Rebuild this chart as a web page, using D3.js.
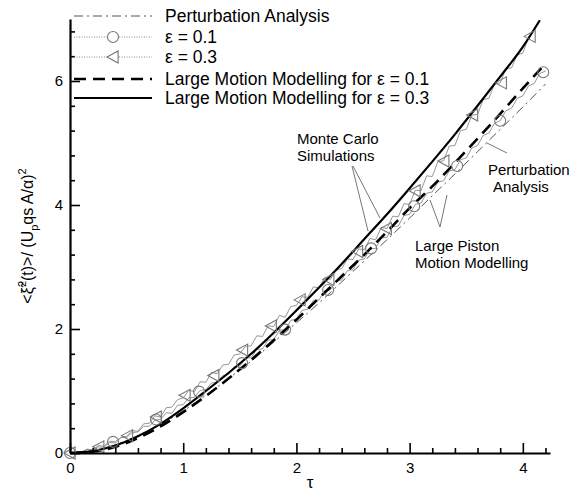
<!DOCTYPE html>
<html>
<head>
<meta charset="utf-8">
<script src="https://cdn.jsdelivr.net/npm/d3@7"></script>
<style>
  body { margin: 0; background: #fff; }
  text { font-family: "Liberation Sans", Arial, sans-serif; fill: #000; }
</style>
</head>
<body>
<div id="chart"></div>
<script>
// Monte Carlo runs (sampled every 0.05 in tau)
const tauMC = [0, 0.05, 0.1, 0.15, 0.2, 0.25, 0.3, 0.35, 0.4, 0.45, 0.5, 0.55, 0.6, 0.65, 0.7, 0.75, 0.8, 0.85, 0.9, 0.95,
  1.0, 1.05, 1.1, 1.15, 1.2, 1.25, 1.3, 1.35, 1.4, 1.45, 1.5, 1.55, 1.6, 1.65, 1.7, 1.75, 1.8, 1.85, 1.9, 1.95,
  2.0, 2.05, 2.1, 2.15, 2.2, 2.25, 2.3, 2.35, 2.4, 2.45, 2.5, 2.55, 2.6, 2.65, 2.7, 2.75, 2.8, 2.85, 2.9, 2.95,
  3.0, 3.05, 3.1, 3.15, 3.2, 3.25, 3.3, 3.35, 3.4, 3.45, 3.5, 3.55, 3.6, 3.65, 3.7, 3.75, 3.8, 3.85, 3.9, 3.95,
  4.0, 4.05, 4.1, 4.15, 4.2];
const mc01 = [0.00, 0.02, 0.01, 0.06, 0.05, 0.12, 0.11, 0.19, 0.18, 0.25,
  0.25, 0.33, 0.34, 0.43, 0.43, 0.53, 0.54, 0.65, 0.64, 0.77,
  0.78, 0.89, 0.90, 1.01, 1.02, 1.13, 1.14, 1.25, 1.27, 1.39,
  1.40, 1.53, 1.54, 1.67, 1.68, 1.82, 1.83, 1.98, 1.99, 2.14,
  2.16, 2.30, 2.32, 2.46, 2.47, 2.62, 2.63, 2.78, 2.79, 2.94,
  2.96, 3.11, 3.13, 3.29, 3.30, 3.47, 3.48, 3.65, 3.66, 3.83,
  3.85, 4.01, 4.03, 4.19, 4.21, 4.37, 4.39, 4.55, 4.57, 4.73,
  4.76, 4.92, 4.96, 5.12, 5.16, 5.32, 5.36, 5.52, 5.56, 5.72,
  5.76, 5.92, 5.96, 6.12, 6.16];
const mc03 = [0.00, 0.02, 0.01, 0.06, 0.05, 0.10, 0.09, 0.17, 0.16, 0.25,
  0.27, 0.36, 0.35, 0.47, 0.48, 0.60, 0.58, 0.73, 0.74, 0.86,
  0.89, 1.01, 0.99, 1.15, 1.14, 1.30, 1.28, 1.42, 1.43, 1.58,
  1.60, 1.72, 1.73, 1.89, 1.88, 2.05, 2.04, 2.22, 2.19, 2.36,
  2.38, 2.52, 2.51, 2.68, 2.66, 2.83, 2.80, 2.96, 2.97, 3.13,
  3.12, 3.29, 3.28, 3.46, 3.44, 3.64, 3.62, 3.82, 3.81, 4.02,
  4.01, 4.24, 4.23, 4.47, 4.46, 4.70, 4.71, 4.95, 4.96, 5.20,
  5.22, 5.45, 5.46, 5.70, 5.72, 5.95, 5.97, 6.20, 6.21, 6.42,
  6.45, 6.70, 6.82, 6.97];

// symbols on the Monte Carlo runs
const tauCircle = [0, 0.38, 0.76, 1.14, 1.52, 1.9, 2.28, 2.66, 3.04, 3.42, 3.8, 4.18];
const valCircle = [0, 0.18, 0.54, 0.99, 1.45, 1.99, 2.63, 3.30, 3.98, 4.63, 5.36, 6.14];
const tauTri = [0, 0.254, 0.508, 0.762, 1.016, 1.27, 1.524, 1.778, 2.032, 2.286, 2.54, 2.794, 3.048, 3.302, 3.556, 3.81, 4.064];
const valTri = [0, 0.10, 0.28, 0.58, 0.93, 1.25, 1.66, 2.05, 2.47, 2.80, 3.25, 3.62, 4.23, 4.71, 5.45, 5.97, 6.72];

// model curves
const tauModel = [0, 0.2, 0.4, 0.6, 0.8, 1.0, 1.2, 1.4, 1.6, 1.8, 2.0, 2.2, 2.4, 2.6, 2.8, 3.0, 3.2, 3.4, 3.6, 3.8, 4.0, 4.2];
const perturbation = [0, 0.03, 0.13, 0.28, 0.46, 0.68, 0.93, 1.20, 1.48, 1.79, 2.10, 2.42, 2.76, 3.10, 3.44, 3.79, 4.15, 4.50, 4.86, 5.22, 5.58, 5.95];
const lmm01 = [0, 0.02, 0.10, 0.24, 0.43, 0.66, 0.92, 1.20, 1.50, 1.82, 2.15, 2.50, 2.85, 3.20, 3.57, 3.95, 4.30, 4.68, 5.07, 5.47, 5.88, 6.28];
const tauLmm03 = [0, 0.2, 0.4, 0.6, 0.8, 1.0, 1.2, 1.4, 1.6, 1.8, 2.0, 2.2, 2.4, 2.6, 2.8, 3.0, 3.2, 3.4, 3.6, 3.8, 4.0, 4.15];
const lmm03 = [0, 0.03, 0.12, 0.27, 0.47, 0.72, 1.00, 1.29, 1.60, 1.94, 2.30, 2.67, 3.05, 3.45, 3.85, 4.27, 4.70, 5.14, 5.60, 6.07, 6.55, 6.98];

const xTicks = [0, 1, 2, 3, 4];
const xMinor = [0.2, 0.4, 0.6, 0.8, 1.2, 1.4, 1.6, 1.8, 2.2, 2.4, 2.6, 2.8, 3.2, 3.4, 3.6, 3.8, 4.2];
const yTicks = [0, 2, 4, 6];
const yMinor = [0.4, 0.8, 1.2, 1.6, 2.4, 2.8, 3.2, 3.6, 4.4, 4.8, 5.2, 5.6, 6.4, 6.8];
const legendLabels = ["Perturbation Analysis", "\u03b5 = 0.1", "\u03b5 = 0.3",
  "Large Motion Modelling for \u03b5 = 0.1", "Large Motion Modelling for \u03b5 = 0.3"];

const width = 575;
const height = 493;

const svg = d3.select("#chart").append("svg").attr("width", width).attr("height", height);

const x = d3.scaleLinear().domain([0, 4.24]).range([70, 550]);
const y = d3.scaleLinear().domain([0, 7]).range([453, 19]);

const zip = (xs, ys) => ys.map((v, i) => [xs[i], v]);
const line = d3.line().x((d) => x(d[0])).y((d) => y(d[1]));
const smooth = d3.line().x((d) => x(d[0])).y((d) => y(d[1])).curve(d3.curveMonotoneX);

// Monte Carlo noisy lines
svg.append("path").attr("d", line(zip(tauMC, mc01)))
  .attr("fill", "none").attr("stroke", "#8a8a8a").attr("stroke-width", 0.9);
svg.append("path").attr("d", line(zip(tauMC, mc03)))
  .attr("fill", "none").attr("stroke", "#8a8a8a").attr("stroke-width", 0.9);

// model curves
svg.append("path").attr("d", smooth(zip(tauModel, perturbation)))
  .attr("fill", "none").attr("stroke", "#555").attr("stroke-width", 1)
  .attr("stroke-dasharray", "9,4,2,4");
svg.append("path").attr("d", smooth(zip(tauModel, lmm01)))
  .attr("fill", "none").attr("stroke", "#000").attr("stroke-width", 2.6)
  .attr("stroke-dasharray", "12,7");
svg.append("path").attr("d", smooth(zip(tauLmm03, lmm03)))
  .attr("fill", "none").attr("stroke", "#000").attr("stroke-width", 2.2);

// symbols
const triPath = (r) => `M${-r},0L${r * 0.85},${-r}L${r * 0.85},${r}Z`;
svg.append("g").selectAll("circle").data(zip(tauCircle, valCircle)).enter().append("circle")
  .attr("cx", (d) => x(d[0])).attr("cy", (d) => y(d[1])).attr("r", 5.5)
  .attr("fill", "none").attr("stroke", "#777").attr("stroke-width", 1.1);
svg.append("g").selectAll("path").data(zip(tauTri, valTri)).enter().append("path")
  .attr("transform", (d) => `translate(${x(d[0])},${y(d[1])})`)
  .attr("d", triPath(6))
  .attr("fill", "none").attr("stroke", "#777").attr("stroke-width", 1.1);

// axes
svg.append("g").attr("transform", `translate(0,${y(0)})`)
  .call(d3.axisBottom(x).tickValues(xTicks).tickSizeInner(-10).tickSizeOuter(0).tickPadding(9).tickFormat(d3.format("d")));
svg.append("g").attr("transform", `translate(0,${y(0)})`)
  .call(d3.axisBottom(x).tickValues(xMinor).tickSizeInner(-5).tickSizeOuter(0).tickFormat(""))
  .call((g) => g.select(".domain").remove());
svg.append("g").attr("transform", `translate(${x(0)},0)`)
  .call(d3.axisLeft(y).tickValues(yTicks).tickSizeInner(-10).tickSizeOuter(0).tickPadding(7).tickFormat(d3.format("d")));
svg.append("g").attr("transform", `translate(${x(0)},0)`)
  .call(d3.axisLeft(y).tickValues(yMinor).tickSizeInner(-5).tickSizeOuter(0).tickFormat(""))
  .call((g) => g.select(".domain").remove());

svg.selectAll(".domain").attr("stroke-width", 2.2);
svg.selectAll(".tick line").attr("stroke-width", 1.6);
svg.selectAll(".tick text").attr("font-size", 15).attr("font-family", "Liberation Sans, Arial, sans-serif");

// axis titles
svg.append("text").attr("x", (x(0) + x(4.24)) / 2).attr("y", 488)
  .attr("text-anchor", "middle").attr("font-size", 17).text("\u03c4");

const yTitle = svg.append("text")
  .attr("transform", "translate(33,236) rotate(-90)")
  .attr("text-anchor", "middle").attr("font-size", 16);
yTitle.append("tspan").text("<\u03be\u0303");
yTitle.append("tspan").attr("dy", -7).attr("font-size", 11).text("2");
yTitle.append("tspan").attr("dy", 7).text("(t)>/ (U");
yTitle.append("tspan").attr("dy", 5).attr("font-size", 11).text("p");
yTitle.append("tspan").attr("dy", -5).text("qs A/\u03b1)");
yTitle.append("tspan").attr("dy", -7).attr("font-size", 11).text("2");

// legend
const legendRows = [16, 37, 57, 79, 98];
const legend = svg.append("g");
const lx0 = 74, lx1 = 152, lmid = 113;
const legendStyles = [
  { stroke: "#555", width: 1, dash: "9,4,2,4" },
  { stroke: "#888", width: 1, dash: "1,1.5" },
  { stroke: "#888", width: 1, dash: "1,1.5" },
  { stroke: "#000", width: 2.6, dash: "12,7" },
  { stroke: "#000", width: 2.2, dash: null }
];
legendLabels.forEach((label, i) => {
  const yy = legendRows[i];
  const st = legendStyles[i];
  legend.append("line").attr("x1", lx0).attr("x2", lx1).attr("y1", yy).attr("y2", yy)
    .attr("stroke", st.stroke).attr("stroke-width", st.width)
    .attr("stroke-dasharray", st.dash);
  legend.append("text").attr("x", 165).attr("y", yy + 6).attr("font-size", 17.5).text(label);
});
legend.append("circle").attr("cx", lmid).attr("cy", legendRows[1]).attr("r", 5.5)
  .attr("fill", "#fff").attr("stroke", "#777").attr("stroke-width", 1.1);
legend.append("path").attr("transform", `translate(${lmid},${legendRows[2]})`).attr("d", triPath(6))
  .attr("fill", "#fff").attr("stroke", "#777").attr("stroke-width", 1.1);

// annotations
const notes = svg.append("g").attr("font-size", 15);
notes.append("text").attr("x", 297).attr("y", 144).text("Monte Carlo");
notes.append("text").attr("x", 297).attr("y", 161).text("Simulations");
notes.append("text").attr("x", 488).attr("y", 175).text("Perturbation");
notes.append("text").attr("x", 493).attr("y", 192).text("Analysis");
notes.append("text").attr("x", 415).attr("y", 251).text("Large Piston");
notes.append("text").attr("x", 415).attr("y", 268).text("Motion Modelling");

const leaders = [
  [[352, 166], [368, 231]],
  [[353, 166], [380, 218]],
  [[507, 153], [487, 143]],
  [[440, 227], [430, 200]],
  [[440, 227], [447, 195]]
];
svg.append("g").selectAll("path").data(leaders).enter().append("path")
  .attr("d", (d) => d3.line()(d))
  .attr("fill", "none").attr("stroke", "#666").attr("stroke-width", 0.9);
</script>
</body>
</html>
